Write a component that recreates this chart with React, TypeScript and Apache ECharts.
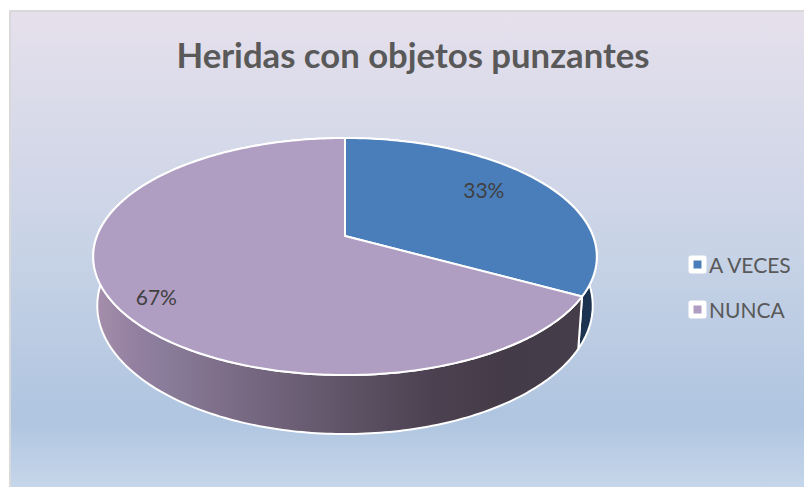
import React, { useEffect, useRef } from "react";
import * as echarts from "echarts";

const titleText = "Heridas con objetos punzantes";
const categories = ["A VECES", "NUNCA"];
const values = [33, 67];
const percentLabels = ["33%", "67%"];
const topColors = ["#4a7ebb", "#b09dc2"];
const FONT = "Lato, 'Open Sans', sans-serif";

// Perspective of the disc (a circle seen from above), in pixels
const CX = 345;
const TOP = { cy: 236, a: 248, b: 115, k: 0.173 };
const BASE = { cy: 283.5, a: 244, b: 124.5, k: 0.173 };

function project(p: { cy: number; a: number; b: number; k: number }, angle: number, t = 1) {
  const u = Math.sin(angle) * t;
  const v = Math.cos(angle) * t;
  const w = 1 + p.k * v;
  return [CX + (p.a * u) / w, p.cy - (p.b * v) / w];
}

function arcPoints(p: typeof TOP, a0: number, a1: number) {
  const n = Math.max(8, Math.ceil(Math.abs(a1 - a0) * 60));
  const out: number[][] = [];
  for (let i = 0; i <= n; i++) out.push(project(p, a0 + ((a1 - a0) * i) / n));
  return out;
}

const total = values.reduce((s, x) => s + x, 0);
const startAngles = values.map((_, i) => (values.slice(0, i).reduce((s, x) => s + x, 0) / total) * Math.PI * 2);

const wallFills: any[] = [
  "#1b3350",
  {
    type: "linear", global: true, x: 97, y: 0, x2: 576, y2: 0,
    colorStops: [
      { offset: 0, color: "#a48eab" },
      { offset: 0.08, color: "#937fa0" },
      { offset: 0.16, color: "#877b98" },
      { offset: 0.24, color: "#80708c" },
      { offset: 0.45, color: "#675b70" },
      { offset: 0.7, color: "#4c4150" },
      { offset: 0.85, color: "#443b48" },
      { offset: 1, color: "#463d4a" },
    ],
  },
];
// radial fraction and vertical nudge of the data labels
const labelPlacement = [
  { t: 0.69, dy: -8 },
  { t: 0.82, dy: 9 },
];

function makeRender(idx: number) {
  return (_params: any, api: any) => {
    const val = api.value(0);
    const a0 = startAngles[idx];
    const a1 = a0 + (val / total) * Math.PI * 2;
    const topArc = arcPoints(TOP, a0, a1);
    const baseArc = arcPoints(BASE, a0, a1);
    const stroke = { stroke: "#ffffff", lineWidth: 2, lineJoin: "round" };
    const lp = labelPlacement[idx];
    const lc = project(TOP, (a0 + a1) / 2, lp.t);
    return {
      type: "group",
      children: [
        {
          type: "polygon",
          shape: { points: [...topArc, ...baseArc.slice().reverse()] },
          style: { fill: wallFills[idx], ...stroke },
        },
        {
          type: "polygon",
          shape: { points: [[CX, TOP.cy], ...topArc] },
          style: { fill: topColors[idx], ...stroke },
        },
        {
          type: "text",
          style: {
            text: percentLabels[idx],
            x: lc[0],
            y: lc[1] + lp.dy,
            fill: "#404040",
            font: `21px ${FONT}`,
            textAlign: "center",
            textVerticalAlign: "middle",
          },
        },
      ],
    };
  };
}

export default function App() {
  const ref = useRef<HTMLDivElement>(null);
  useEffect(() => {
    const chart = echarts.init(ref.current!, undefined, { renderer: "svg" });
    chart.setOption({
      animation: false,
      backgroundColor: "#ffffff",
      graphic: [
        {
          type: "rect",
          z: -1,
          silent: true,
          shape: { x: 10, y: 11, width: 800, height: 480 },
          style: {
            stroke: "#d9d9d9",
            lineWidth: 2,
            fill: {
              type: "linear", global: true, x: 0, y: 11, x2: 0, y2: 487,
              colorStops: [
                { offset: 0, color: "#e6e0ec" },
                { offset: 0.5, color: "#c8d3e6" },
                { offset: 0.86, color: "#afc5e0" },
                { offset: 1, color: "#c6d6ea" },
              ],
            },
          },
        },
      ],
      title: {
        text: titleText,
        left: 408,
        top: 32,
        textAlign: "center",
        textStyle: { fontFamily: FONT, fontWeight: "bold", fontSize: 34.7, color: "#595959" },
      },
      legend: {
        orient: "vertical",
        left: 688.5,
        top: 254,
        padding: 0,
        itemWidth: 13,
        itemHeight: 13,
        itemGap: 24,
        selectedMode: false,
        icon: "rect",
        textStyle: { fontFamily: FONT, fontSize: 21, color: "#595959" },
        data: categories.map((name, i) => ({
          name,
          itemStyle: { color: topColors[i], borderColor: "#ffffff", borderWidth: 5, borderJoin: "round" },
        })),
      },
      series: categories.map((name, i) => ({
        type: "custom",
        name,
        coordinateSystem: "none",
        silent: true,
        itemStyle: { color: topColors[i] },
        data: [[values[i]]],
        renderItem: makeRender(i),
      })),
    });
    return () => chart.dispose();
  }, []);
  return <div ref={ref} style={{ position: "fixed", left: 0, top: 0, width: 804, height: 487 }} />;
}
